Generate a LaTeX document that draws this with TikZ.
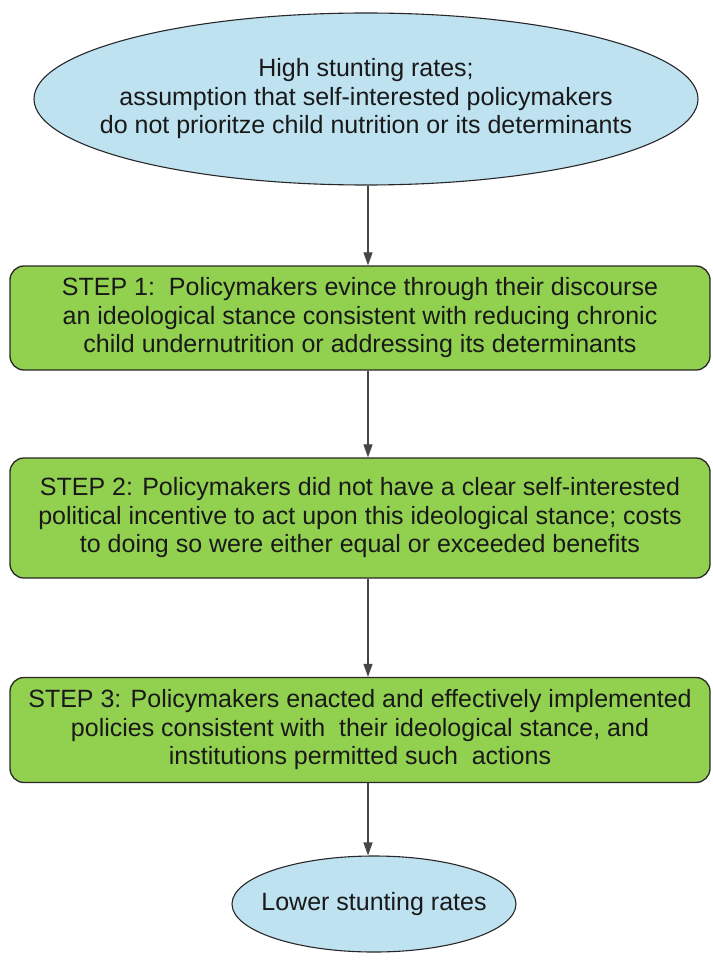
\documentclass[tikz,border=0pt]{standalone}
\usepackage{fontspec}
\setmainfont{Liberation Sans}
\usetikzlibrary{shapes.geometric,arrows.meta}
\definecolor{ovalblue}{RGB}{190,226,240}
\definecolor{stepgreen}{RGB}{146,208,80}
\definecolor{edgegray}{RGB}{40,40,40}
\definecolor{arrowgray}{RGB}{70,70,70}
\definecolor{textdark}{RGB}{25,25,25}
\tikzset{
  oval/.style={ellipse, draw=edgegray, line width=1.1pt, fill=ovalblue, align=center, text=textdark, font=\fontsize{25}{28.5}\selectfont},
  stepbox/.style={rectangle, rounded corners=14pt, draw=edgegray, line width=1.3pt, fill=stepgreen, minimum width=700pt, inner sep=0pt, align=center, text=textdark, font=\fontsize{25}{28.5}\selectfont},
  link/.style={draw=arrowgray, line width=1.2pt, -{Triangle[length=13pt,width=9pt]}}
}
\begin{document}
\begin{tikzpicture}[x=1pt,y=-1pt]
\useasboundingbox (0,0) rectangle (712,960);
\node[oval, inner xsep=-34pt, inner ysep=16pt, minimum width=664pt, minimum height=172pt] (top) at (366,99) {High stunting rates;\\assumption that self-interested policymakers\\do not prioritze child nutrition or its determinants};
\node[stepbox, minimum height=104pt] (s1) at (360,318) {STEP 1:\ \ Policymakers evince through their discourse\\an ideological stance consistent with reducing chronic\\child undernutrition or addressing its determinants};
\node[stepbox, minimum height=120pt] (s2) at (360,518) {STEP 2: Policymakers did not have a clear self-interested\\political incentive to act upon this ideological stance; costs\\to doing so were either equal or exceeded benefits};
\node[stepbox, minimum height=105pt] (s3) at (360,730) {STEP 3: Policymakers enacted and effectively implemented\\policies consistent with\ \ their ideological stance, and\\institutions permitted such\ \ actions};
\node[oval, inner xsep=-14pt, inner ysep=18pt, minimum width=284pt, minimum height=96pt] (bot) at (374,904) {Lower stunting rates};
\draw[link] (top.south -| 368,0) -- (s1.north -| 368,0);
\draw[link] (s1.south -| 368,0) -- (s2.north -| 368,0);
\draw[link] (s2.south -| 368,0) -- (s3.north -| 368,0);
\draw[link] (s3.south -| 368,0) -- (bot.north -| 368,0);
\end{tikzpicture}
\end{document}
